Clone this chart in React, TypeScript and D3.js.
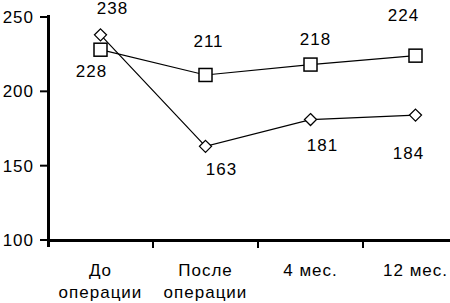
import React from "react";
import * as d3 from "d3";

const categories = [["До", "операции"], ["После", "операции"], ["4 мес."], ["12 мес."]];
const categoryKeys = ["pre", "post", "m4", "m12"];
const squareValues = [228, 211, 218, 224];
const diamondValues = [238, 163, 181, 184];
const yTicks = [100, 150, 200, 250];

// label offsets (dx, dy of baseline relative to point) — styling only
const squareLabelOffsets = [[-9, 27], [3, -28], [5, -20], [-12, -35]];
const diamondLabelOffsets = [[12, -21], [16, 29], [12, 31], [-7, 44]];

export default function App() {
  const W = 450, H = 303;
  const x = d3.scaleBand().domain(categoryKeys).range([48, 468]);
  const y = d3.scaleLinear().domain([100, 250]).range([240, 17]);
  const cx = (i: number) => (x(categoryKeys[i]) as number) + x.bandwidth() / 2;
  const line = d3.line<number>().x((_, i) => cx(i)).y((v) => y(v));
  const font = "'Liberation Sans', Arial, sans-serif";
  const fs = 17;
  const ls = 1;
  return (
    <svg width={W} height={H} style={{ position: "absolute", left: 0, top: 0, background: "#fff" }}>
      <rect width={W} height={H} fill="#fff" />
      {/* axes */}
      <line x1={48.5} x2={48.5} y1={15} y2={247} stroke="#000" strokeWidth={3} />
      <line x1={47} x2={470} y1={240.5} y2={240.5} stroke="#000" strokeWidth={3} />
      {yTicks.map((t) => (
        <g key={t}>
          <line x1={40} x2={48} y1={y(t)} y2={y(t)} stroke="#000" strokeWidth={2} />
          <text x={34} y={y(t) + 6} textAnchor="end" fontFamily={font} fontSize={fs} letterSpacing={ls} fill="#000">{t}</text>
        </g>
      ))}
      {categoryKeys.map((k) => (
        <line key={k} x1={(x(k) as number) + x.bandwidth()} x2={(x(k) as number) + x.bandwidth()} y1={240} y2={248} stroke="#000" strokeWidth={2} />
      ))}
      {categories.map((lines, i) => (
        <text key={i} x={cx(i)} y={276} textAnchor="middle" fontFamily={font} fontSize={fs} letterSpacing={ls} fill="#000">
          {lines.map((l, j) => (
            <tspan key={j} x={cx(i)} dy={j === 0 ? 0 : 22}>{l}</tspan>
          ))}
        </text>
      ))}
      {/* lines */}
      <path d={line(squareValues) || ""} fill="none" stroke="#000" strokeWidth={1.2} />
      <path d={line(diamondValues) || ""} fill="none" stroke="#000" strokeWidth={1.2} />
      {squareValues.map((v, i) => (
        <rect key={i} x={cx(i) - 6.5} y={y(v) - 6.5} width={13} height={13} fill="#fff" stroke="#000" strokeWidth={1.5} />
      ))}
      {diamondValues.map((v, i) => (
        <path key={i} d={`M${cx(i)},${y(v) - 6}L${cx(i) + 6},${y(v)}L${cx(i)},${y(v) + 6}L${cx(i) - 6},${y(v)}Z`} fill="#fff" stroke="#000" strokeWidth={1.3} />
      ))}
      {squareValues.map((v, i) => (
        <text key={i} x={cx(i) + squareLabelOffsets[i][0]} y={y(v) + squareLabelOffsets[i][1]} textAnchor="middle" fontFamily={font} fontSize={fs} letterSpacing={ls} fill="#000">{v}</text>
      ))}
      {diamondValues.map((v, i) => (
        <text key={i} x={cx(i) + diamondLabelOffsets[i][0]} y={y(v) + diamondLabelOffsets[i][1]} textAnchor="middle" fontFamily={font} fontSize={fs} letterSpacing={ls} fill="#000">{v}</text>
      ))}
    </svg>
  );
}
